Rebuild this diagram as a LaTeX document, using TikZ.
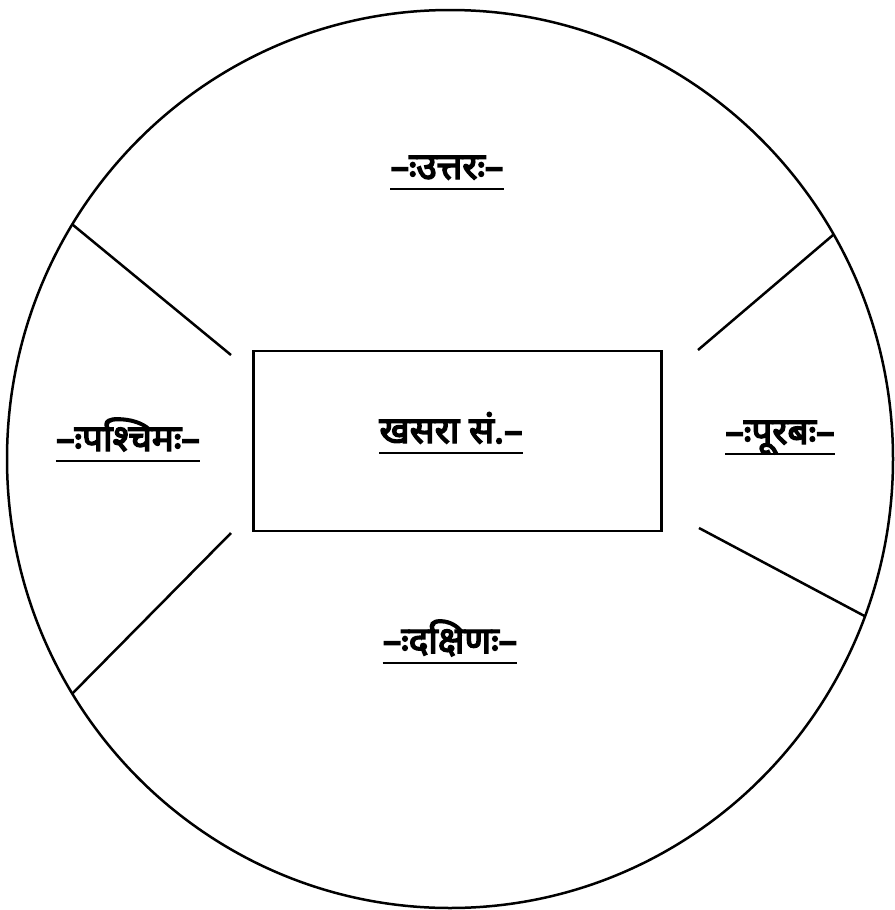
\documentclass[tikz,border=0pt]{standalone}
\usepackage{fontspec}
\usetikzlibrary{calc}
\newfontfamily\deva[Script=Devanagari, FakeBold=4]{Noto Sans}
\begin{document}
\begin{tikzpicture}[x=1pt,y=-1pt,
  lbl/.style={inner sep=0pt, font=\deva\fontsize{37}{40}\selectfont},
  edge/.style={line width=2.5pt}]
\useasboundingbox (0,0) rectangle (894,910);
\coordinate (c) at (450,459);
\draw[edge] (c) ellipse [x radius=443, y radius=449];
\node[draw, edge, minimum width=408, minimum height=180, inner sep=0pt] (box) at (457.5,441) {};
\coordinate (lt) at ($(c)+(148.5:443 and -449)$);
\coordinate (lb) at ($(c)+(211.5:443 and -449)$);
\coordinate (rt) at ($(c)+(30:443 and -449)$);
\coordinate (rb) at ($(c)+(-20.5:443 and -449)$);
\coordinate (ilt) at (231,355);
\coordinate (ilb) at (231,533);
\coordinate (irt) at (698,350);
\coordinate (irb) at (699,528);
\draw[edge] (lt) -- (ilt);
\draw[edge] (lb) -- (ilb);
\draw[edge] (rt) -- (irt);
\draw[edge] (rb) -- (irb);
\node[lbl, anchor=base] (n) at (447,179) {–ःउत्तरः–};
\node[lbl, anchor=base] (w) at (128,451) {–ःपश्चिमः–};
\node[lbl, anchor=base] (k) at (451,443) {खसरा सं.–};
\node[lbl, anchor=base] (e) at (780,444) {–ःपूरबः–};
\node[lbl, anchor=base] (s) at (450,653) {–ःदक्षिणः–};
\foreach \m in {n,w,k,e,s}{
  \draw[line width=2.3pt] ([yshift=-10]\m.base west) -- ([yshift=-10]\m.base east);
}
\end{tikzpicture}
\end{document}
